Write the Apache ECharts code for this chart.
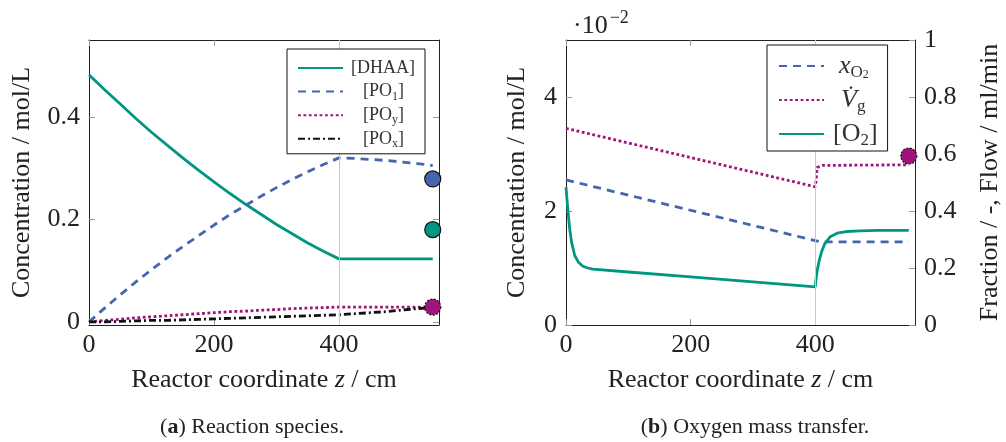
<!DOCTYPE html>
<html>
<head>
<meta charset="utf-8">
<script src="https://cdn.jsdelivr.net/npm/echarts@6/dist/echarts.min.js"></script>
<style>html,body{margin:0;padding:0;background:#fff}#c{width:1006px;height:442px}</style>
</head>
<body>
<div id="c"></div>
<script>
// ---- data: (a) reaction species ----
const zLeft = [0, 25, 50, 75, 100, 125, 150, 175, 200, 225, 250, 275, 300, 325, 350, 375, 400, 425, 450, 475, 500, 525, 550];
const dhaa  = [0.482, 0.453, 0.425, 0.397, 0.370, 0.345, 0.320, 0.296, 0.273, 0.251, 0.230, 0.210, 0.190, 0.172, 0.154, 0.138, 0.123, 0.123, 0.123, 0.123, 0.123, 0.123, 0.123];
const po1   = [0.000, 0.027, 0.053, 0.078, 0.102, 0.125, 0.147, 0.168, 0.189, 0.209, 0.227, 0.245, 0.262, 0.278, 0.293, 0.307, 0.320, 0.319, 0.317, 0.315, 0.312, 0.309, 0.305];
const poy   = [0.000, 0.003, 0.005, 0.008, 0.010, 0.012, 0.014, 0.016, 0.018, 0.020, 0.021, 0.023, 0.024, 0.026, 0.027, 0.028, 0.029, 0.029, 0.029, 0.029, 0.029, 0.029, 0.029];
const pox   = [0.000, 0.000, 0.001, 0.002, 0.003, 0.003, 0.004, 0.005, 0.006, 0.007, 0.008, 0.009, 0.010, 0.011, 0.012, 0.013, 0.014, 0.016, 0.018, 0.020, 0.023, 0.026, 0.028];
const expZ  = 550;
const expPO1 = 0.279, expDHAA = 0.180, expPOy = 0.029;

// ---- data: (b) oxygen mass transfer ----
const zXO2 = [0, 400, 410, 550];
const xO2  = [0.509, 0.296, 0.292, 0.292];
const zVg  = [0, 400, 401, 403, 412, 550];
const vg   = [0.690, 0.485, 0.500, 0.553, 0.560, 0.562];
const zO2  = [0, 2, 4, 6, 9, 14, 20, 27, 35, 43, 100, 200, 300, 400, 401, 403, 406, 410, 415, 424, 435, 450, 472, 500, 550];
const o2   = [2.42, 2.15, 1.90, 1.68, 1.45, 1.22, 1.10, 1.03, 1.00, 0.98, 0.93, 0.845, 0.757, 0.67, 0.79, 0.95, 1.12, 1.28, 1.42, 1.55, 1.61, 1.64, 1.65, 1.66, 1.66];
const expVg = 0.593;

// ---- ticks ----
const xTicks = [0, 200, 400];
const yTicksA = [0, 0.2, 0.4];
const yTicksB = [0, 2, 4];
const yTicksB2 = [0, 0.2, 0.4, 0.6, 0.8, 1];

const F = '"Liberation Serif", "DejaVu Serif", serif';
const TEAL = '#009682', BLUE = '#4665af', PURPLE = '#a0137a', BLACK = '#111';
const LW = 2.8;
const pair = (xs, ys) => xs.map((x, i) => [x, ys[i]]);

function xAx(grid, pos, labels) {
  return {
    type: 'value', gridIndex: grid, position: pos, min: 0, max: 560,
    axisLine: {show: true, onZero: false, lineStyle: {color: '#222', width: 1}},
    axisTick: {show: true, inside: true, length: 6, customValues: xTicks, lineStyle: {color: '#999'}},
    axisLabel: {show: labels, customValues: xTicks, fontFamily: F, fontSize: 26, color: '#222', margin: 7},
    splitLine: {show: false},
    name: labels ? '{n|Reactor coordinate }{i|z}{n| / cm}' : '',
    nameLocation: 'middle', nameGap: 42,
    nameTextStyle: {rich: {n: {fontFamily: F, fontSize: 26, color: '#222'}, i: {fontFamily: F, fontSize: 26, fontStyle: 'italic', color: '#222'}}}
  };
}
function yAx(grid, pos, min, max, ticks, labels, name, gap) {
  return {
    type: 'value', gridIndex: grid, position: pos, min: min, max: max,
    axisLine: {show: true, onZero: false, lineStyle: {color: '#222', width: 1}},
    axisTick: {show: true, inside: true, length: 6, customValues: ticks, lineStyle: {color: '#999'}},
    axisLabel: {show: labels, customValues: ticks, fontFamily: F, fontSize: 26, color: '#222', margin: 9},
    splitLine: {show: false},
    name: name || '', nameLocation: 'middle', nameGap: gap || 0, nameRotate: 90,
    nameTextStyle: {fontFamily: F, fontSize: 26, color: '#222'}
  };
}

function ln(name, data, color, dash, xi, yi) {
  return {
    type: 'line', name: name, data: data, xAxisIndex: xi, yAxisIndex: yi, color: color, z: 3,
    symbol: 'none', showSymbol: false, animation: false,
    lineStyle: {width: LW, color: color, type: dash, cap: 'butt'}, itemStyle: {color: color}
  };
}
function mk(data, color, xi, yi, dotted) {
  return {type: 'scatter', data: data, xAxisIndex: xi, yAxisIndex: yi, symbolSize: 16, z: 6, animation: false,
    itemStyle: {color: color, borderColor: '#111', borderWidth: 1.2, borderType: dotted ? [2, 1.5] : 'solid', opacity: 1}};
}
function vline(xi, yi) {
  return {type: 'line', data: [[400, 0]], xAxisIndex: xi, yAxisIndex: yi, symbol: 'none', lineStyle: {opacity: 0}, z: 1, animation: false,
    markLine: {silent: true, symbol: 'none', label: {show: false}, animation: false,
      lineStyle: {color: '#c8c8c8', width: 1, type: 'solid'}, data: [{xAxis: 400}]}};
}

const labelsA = {'[DHAA]': '{p0|[DHAA]}', '[PO1]': '{p1|[PO}{s|1}{n|]}', '[POy]': '{p1|[PO}{s|y}{n|]}', '[POx]': '{p1|[PO}{s|x}{n|]}'};
const labelsB = {
  'xO2': '{xi|x}{s|O}{ss|2}',
  'Vg': '{vi|V\u0307}{s|g}',
  'O2': '{p|[O}{ss2|2}{n|]}'
};

const option = {
  backgroundColor: '#fff',
  animation: false,
  grid: [
    {left: 89, top: 40, width: 350, height: 285},
    {left: 566, top: 40, width: 349, height: 285}
  ],
  xAxis: [xAx(0, 'bottom', true), xAx(0, 'top', false), xAx(1, 'bottom', true), xAx(1, 'top', false)],
  yAxis: [
    yAx(0, 'left', -0.006, 0.55, yTicksA, true, 'Concentration / mol/L', 54),
    yAx(0, 'right', -0.006, 0.55, yTicksA, false),
    yAx(1, 'left', 0, 5, yTicksB, true, 'Concentration / mol/L', 36),
    yAx(1, 'right', 0, 1, yTicksB2, true, 'Fraction / -, Flow / ml/min', 62)
  ],
  legend: [
    {
      data: ['[DHAA]', '[PO1]', '[POy]', '[POx]'], orient: 'vertical', left: 287, top: 49,
      itemWidth: 45, itemHeight: 14, itemGap: 1.6, padding: [8, 10, 4, 10],
      borderColor: '#111', borderWidth: 1, borderRadius: 0, backgroundColor: '#fff', z: 10,
      selectedMode: false, itemStyle: {opacity: 0, borderWidth: 0},
      formatter: n => labelsA[n],
      textStyle: {fontFamily: F, fontSize: 18, color: '#333', lineHeight: 22,
        rich: {
          n: {fontFamily: F, fontSize: 18, color: '#333', lineHeight: 22},
          p0: {fontFamily: F, fontSize: 18, color: '#333', lineHeight: 22, padding: [0, 0, 0, 3]},
          p1: {fontFamily: F, fontSize: 18, color: '#333', lineHeight: 22, padding: [0, 0, 0, 15]},
          s: {fontFamily: F, fontSize: 12, color: '#333', lineHeight: 10, verticalAlign: 'bottom'}
        }}
    },
    {
      data: ['xO2', 'Vg', 'O2'], orient: 'vertical', left: 767, top: 45,
      itemWidth: 45, itemHeight: 14, itemGap: 4, padding: [6, 10, 2, 11],
      borderColor: '#111', borderWidth: 1, borderRadius: 0, backgroundColor: '#fff', z: 10,
      selectedMode: false, itemStyle: {opacity: 0, borderWidth: 0},
      formatter: n => labelsB[n],
      textStyle: {fontFamily: F, fontSize: 26, color: '#333', lineHeight: 30,
        rich: {
          n: {fontFamily: F, fontSize: 26, color: '#333', lineHeight: 30},
          p: {fontFamily: F, fontSize: 26, color: '#333', lineHeight: 30, padding: [0, 0, 0, 4]},
          xi: {fontFamily: F, fontSize: 26, fontStyle: 'italic', color: '#333', lineHeight: 30, padding: [0, 0, 0, 10]},
          vi: {fontFamily: F, fontSize: 26, fontStyle: 'italic', color: '#333', lineHeight: 30, padding: [0, 0, 0, 12]},
          s: {fontFamily: F, fontSize: 17, color: '#333', lineHeight: 14, verticalAlign: 'bottom'},
          ss: {fontFamily: F, fontSize: 12, color: '#333', lineHeight: 8, verticalAlign: 'bottom'},
          ss2: {fontFamily: F, fontSize: 17, color: '#333', lineHeight: 14, verticalAlign: 'bottom'}
        }}
    }
  ],
  graphic: [
    {type: 'text', left: 573, top: 9, z: 20, style: {text: '{a|\u00b710}{b|\u22122}', rich: {
      a: {fontFamily: F, fontSize: 26, fill: '#222', lineHeight: 30, verticalAlign: 'bottom'},
      b: {fontFamily: F, fontSize: 18, fill: '#222', lineHeight: 30, verticalAlign: 'top', padding: [0, 0, 0, 2]}}}},
    {type: 'text', x: 252, y: 427, z: 20, style: {text: '{n|(}{b|a}{n|) Reaction species.}', align: 'center', verticalAlign: 'middle', rich: {
      n: {fontFamily: F, fontSize: 22, fill: '#222'}, b: {fontFamily: F, fontSize: 22, fontWeight: 'bold', fill: '#222'}}}},
    {type: 'text', x: 755, y: 427, z: 20, style: {text: '{n|(}{b|b}{n|) Oxygen mass transfer.}', align: 'center', verticalAlign: 'middle', rich: {
      n: {fontFamily: F, fontSize: 22, fill: '#222'}, b: {fontFamily: F, fontSize: 22, fontWeight: 'bold', fill: '#222'}}}}
  ],
  series: [
    vline(0, 0),
    ln('[DHAA]', pair(zLeft, dhaa), TEAL, 'solid', 0, 0),
    ln('[PO1]', pair(zLeft, po1), BLUE, [8, 6], 0, 0),
    ln('[POy]', pair(zLeft, poy), PURPLE, [2.8, 2.6], 0, 0),
    ln('[POx]', pair(zLeft, pox), BLACK, [7, 3, 2, 3], 0, 0),
    mk([[expZ, expPO1]], BLUE, 0, 0),
    mk([[expZ, expDHAA]], TEAL, 0, 0),
    mk([[expZ, expPOy]], PURPLE, 0, 0, true),
    vline(2, 2),
    ln('xO2', pair(zXO2, xO2), BLUE, [8, 6], 2, 3),
    ln('Vg', pair(zVg, vg), PURPLE, [2.8, 2.6], 2, 3),
    ln('O2', pair(zO2, o2), TEAL, 'solid', 2, 2),
    mk([[expZ, expVg]], PURPLE, 2, 3, true)
  ]
};
echarts.init(document.getElementById('c')).setOption(option);
</script>
</body>
</html>
